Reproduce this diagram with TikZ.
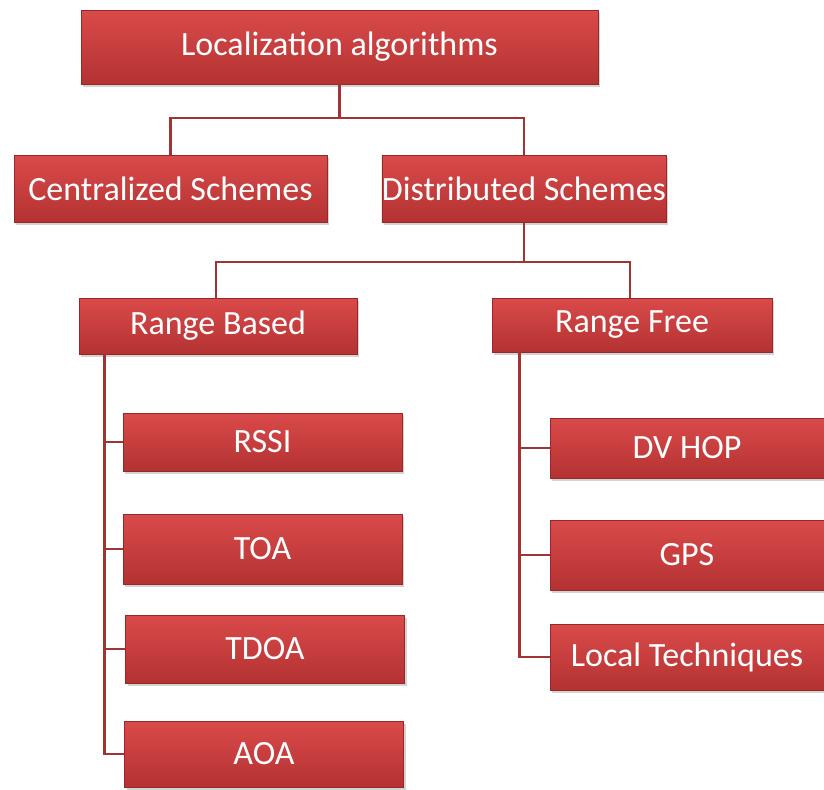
\documentclass[tikz,border=0pt]{standalone}
\usepackage{fontspec}
\setmainfont{Carlito}
\usepackage{tikz}
\usetikzlibrary{shadows,positioning}
\definecolor{boxtop}{RGB}{218,74,74}
\definecolor{boxbot}{RGB}{180,50,50}
\definecolor{boxline}{RGB}{150,40,40}
\definecolor{linkred}{RGB}{160,52,52}

\begin{document}
\begin{tikzpicture}[x=0.5pt, y=-0.5pt,
    algbox/.style={rectangle, draw=boxline, line width=0.4pt,
                   top color=boxtop, bottom color=boxbot,
                   drop shadow={opacity=0.35, shadow xshift=1.2pt, shadow yshift=-1.5pt},
                   text=white, inner sep=0pt, align=center,
                   font=\fontsize{17}{20}\selectfont},
    link/.style={draw=linkred, line width=1.4pt},
]
    \useasboundingbox (0,0) rectangle (824,789);

    % Top level
    \node[algbox, minimum width=258.5pt, minimum height=37pt] (loc) at (339.5,47) {Localization algorithms};

    % Schemes
    \node[algbox, minimum width=156.5pt, minimum height=33.5pt] (cen) at (170.5,188.5) {Centralized Schemes};
    \node[algbox, minimum width=141pt, minimum height=33.5pt] (dis) at (524,188.5) {Distributed Schemes};

    % Range based / range free
    \node[algbox, minimum width=139pt, minimum height=28pt] (rb) at (218,326) {Range Based};
    \node[algbox, minimum width=140pt, minimum height=27pt] (rf) at (632,325) {Range Free};

    % Range based methods
    \node[algbox, minimum width=139.5pt, minimum height=29pt] (rssi) at (262.5,442) {RSSI};
    \node[algbox, minimum width=139.5pt, minimum height=35pt] (toa) at (262.5,549) {TOA};
    \node[algbox, minimum width=139.5pt, minimum height=34pt] (tdoa) at (265,649) {TDOA};
    \node[algbox, minimum width=139.5pt, minimum height=33pt] (aoa) at (264,754) {AOA};

    % Range free methods
    \node[algbox, minimum width=137pt, minimum height=30pt] (dv) at (687,448) {DV HOP};
    \node[algbox, minimum width=137pt, minimum height=35pt] (gps) at (687,555) {GPS};
    \node[algbox, minimum width=137pt, minimum height=33pt] (lt) at (687,657) {Local Techniques};

    % Connectors
    \coordinate (j1) at (339.5,118);
    \coordinate (j2) at (524,262);
    \draw[link] (loc.south) -- (j1);
    \draw[link] (j1) -| (cen.north);
    \draw[link] (j1) -| (dis.north);
    \draw[link] (dis.south) -- (j2);
    \draw[link] (j2) -| ([xshift=-1pt]rb.north);
    \draw[link] (j2) -| ([xshift=-1pt]rf.north);
    \draw[link] ([xshift=13pt]rb.south west) |- (rssi.west);
    \draw[link] ([xshift=13pt]rb.south west) |- (toa.west);
    \draw[link] ([xshift=13pt]rb.south west) |- (tdoa.west);
    \draw[link] ([xshift=13pt]rb.south west) |- (aoa.west);
    \draw[link] ([xshift=14pt]rf.south west) |- (dv.west);
    \draw[link] ([xshift=14pt]rf.south west) |- (gps.west);
    \draw[link] ([xshift=14pt]rf.south west) |- (lt.west);
\end{tikzpicture}
\end{document}
